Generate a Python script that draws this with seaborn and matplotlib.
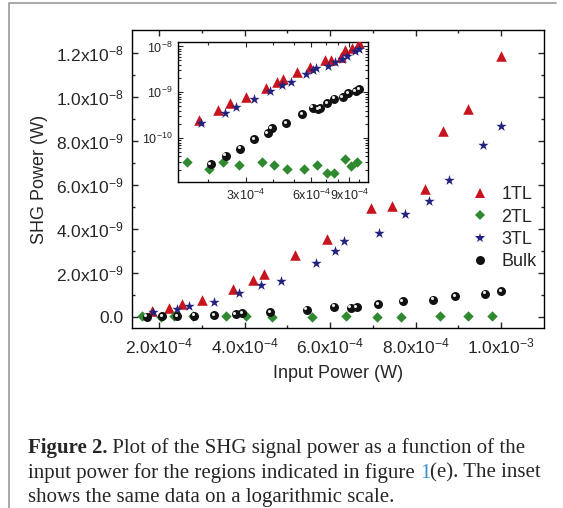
import numpy as np
import pandas as pd
import matplotlib
matplotlib.use("Agg")
import matplotlib.pyplot as plt
import matplotlib.transforms as mtransforms
from matplotlib.lines import Line2D
from matplotlib.ticker import FixedLocator, NullFormatter
import seaborn as sns

# input power in units of 1e-4 W, SHG power in units of 1e-9 W
x_1tl = [1.83, 2.24, 2.54, 3.00, 3.72, 4.19, 4.45, 5.17, 5.93, 6.96, 7.45, 8.22, 8.65, 9.23, 10.0]
y_1tl = [0.25, 0.42, 0.58, 0.78, 1.27, 1.70, 1.93, 2.80, 3.55, 4.96, 5.02, 5.79, 8.44, 9.43, 11.85]

x_2tl = [1.61, 2.04, 2.35, 2.80, 3.57, 4.04, 4.65, 5.57, 6.38, 7.10, 7.65, 8.58, 9.22, 9.78]
y_2tl = [0.0305, 0.0215, 0.0305, 0.0263, 0.0305, 0.0263, 0.0215, 0.0215, 0.0263, 0.0171, 0.0171, 0.0355, 0.0250, 0.0296]

x_3tl = [1.87, 2.41, 2.71, 3.28, 3.88, 4.39, 4.86, 5.68, 6.12, 6.33, 7.15, 7.75, 8.32, 8.78, 9.57, 10.0]
y_3tl = [0.21, 0.35, 0.48, 0.70, 1.08, 1.46, 1.64, 2.47, 3.01, 3.46, 3.82, 4.68, 5.27, 6.21, 7.81, 8.68]

x_bulk = [1.71, 2.07, 2.42, 2.83, 3.29, 3.79, 3.95, 4.60, 5.45, 6.10, 6.48, 6.62, 7.13, 7.70, 8.41, 8.93, 9.63, 10.0]
y_bulk = [0.005, 0.027, 0.041, 0.059, 0.095, 0.126, 0.163, 0.212, 0.33, 0.46, 0.43, 0.45, 0.58, 0.72, 0.78, 0.95, 1.06, 1.16]

series_names = ["1TL", "2TL", "3TL", "Bulk"]

xticks_main = [2e-4, 4e-4, 6e-4, 8e-4, 1e-3]
xticklabels_main = ["2.0x10$^{-4}$", "4.0x10$^{-4}$", "6.0x10$^{-4}$", "8.0x10$^{-4}$", "1.0x10$^{-3}$"]
yticks_main = [0, 2e-9, 4e-9, 6e-9, 8e-9, 1e-8, 1.2e-8]
yticklabels_main = ["0.0", "2.0x10$^{-9}$", "4.0x10$^{-9}$", "6.0x10$^{-9}$",
                    "8.0x10$^{-9}$", "1.0x10$^{-8}$", "1.2x10$^{-8}$"]
xticks_inset = [3e-4, 6e-4, 9e-4]
xticklabels_inset = ["3x10$^{-4}$", "6x10$^{-4}$", "9x10$^{-4}$"]
yticks_inset = [1e-10, 1e-9, 1e-8]
yticklabels_inset = ["10$^{-10}$", "10$^{-9}$", "10$^{-8}$"]

frames = []
for name, xs, ys in [("1TL", x_1tl, y_1tl), ("2TL", x_2tl, y_2tl),
                     ("3TL", x_3tl, y_3tl), ("Bulk", x_bulk, y_bulk)]:
    frames.append(pd.DataFrame({"power": np.array(xs) * 1e-4,
                                "shg": np.array(ys) * 1e-9,
                                "region": name}))
df = pd.concat(frames, ignore_index=True)

styles = {
    "1TL": dict(marker="^", s=58, color="#C8141E"),
    "2TL": dict(marker="D", s=28, color="#2F8A2F"),
    "3TL": dict(marker="*", s=62, color="#23237F"),
    "Bulk": dict(marker="o", s=42, color="#111111"),
}

sns.set_style("ticks")
plt.rcParams["font.family"] = ["Liberation Sans", "DejaVu Sans"]
plt.rcParams["mathtext.default"] = "regular"

fig = plt.figure(figsize=(5.63, 5.08), dpi=100)
ax = fig.add_axes([0.2345, 0.3543, 0.7318, 0.5866])
axin = fig.add_axes([0.3162, 0.6417, 0.3375, 0.2756])


def draw_series(a):
    for name in series_names:
        sub = df[df["region"] == name]
        st = styles[name]
        sns.scatterplot(data=sub, x="power", y="shg", ax=a, marker=st["marker"],
                        s=st["s"], color=st["color"], linewidth=0, legend=False,
                        zorder=3)
    # highlight on the black spheres
    sub = df[df["region"] == "Bulk"]
    shine = mtransforms.offset_copy(a.transData, fig=fig, x=-1.0, y=1.0, units="points")
    a.scatter(sub["power"], sub["shg"], s=5, color="#e8e8e8", linewidth=0,
              transform=shine, zorder=4)


draw_series(ax)
ax.set_xlim(1.37e-4, 1.10e-3)
ax.set_ylim(-0.5e-9, 13.02e-9)
ax.xaxis.set_major_locator(FixedLocator(xticks_main))
ax.set_xticklabels(xticklabels_main)
ax.xaxis.set_minor_locator(FixedLocator([3e-4, 5e-4, 7e-4, 9e-4]))
ax.yaxis.set_major_locator(FixedLocator(yticks_main))
ax.set_yticklabels(yticklabels_main)
ax.yaxis.set_minor_locator(FixedLocator([1e-9, 3e-9, 5e-9, 7e-9, 9e-9, 1.1e-8]))
ax.set_xlabel("Input Power (W)", fontsize=13, labelpad=6)
ax.set_ylabel("SHG Power (W)", fontsize=13, labelpad=6)
ax.tick_params(which="both", direction="in", top=True, right=True, width=1.0,
               labelsize=12.5, pad=6)
ax.tick_params(which="major", length=4.5)
ax.tick_params(which="minor", length=2.5)
for sp in ax.spines.values():
    sp.set_linewidth(1.0)
    sp.set_color("black")

handles = [Line2D([], [], linestyle="none", marker=styles[n]["marker"],
                  markersize=np.sqrt(styles[n]["s"]), color=styles[n]["color"],
                  markeredgewidth=0) for n in series_names]
ax.legend(handles, series_names, loc="upper left", bbox_to_anchor=(0.805, 0.50),
          frameon=False, fontsize=13, handlelength=1.0, handletextpad=0.7,
          labelspacing=0.3, borderaxespad=0)

draw_series(axin)
axin.set_xscale("log")
axin.set_yscale("log")
axin.set_xlim(1.46e-4, 1.10e-3)
axin.set_ylim(1.1e-11, 1.25e-8)
axin.xaxis.set_major_locator(FixedLocator(xticks_inset))
axin.set_xticklabels(xticklabels_inset)
axin.xaxis.set_minor_locator(FixedLocator([2e-4, 4e-4, 5e-4, 7e-4, 8e-4, 1e-3]))
axin.xaxis.set_minor_formatter(NullFormatter())
axin.yaxis.set_major_locator(FixedLocator(yticks_inset))
axin.set_yticklabels(yticklabels_inset)
axin.yaxis.set_minor_locator(FixedLocator(
    [k * 10.0 ** e for e in (-11, -10, -9) for k in range(2, 10)]))
axin.yaxis.set_minor_formatter(NullFormatter())
axin.set_xlabel("")
axin.set_ylabel("")
axin.tick_params(which="both", direction="in", top=True, right=True, width=0.8,
                 labelsize=9, pad=4)
axin.tick_params(which="major", length=3.5)
axin.tick_params(which="minor", length=2)
for sp in axin.spines.values():
    sp.set_linewidth(1.0)
    sp.set_color("black")

# page frame
fig.add_artist(Line2D([8.5 / 563, 8.5 / 563, 556 / 563], [0, 1 - 3.3 / 508, 1 - 3.3 / 508],
                      transform=fig.transFigure, color="#9a9a9a", linewidth=1.2))

# caption
serif = "Liberation Serif"
cap_size = 15
fig.canvas.draw()
rend = fig.canvas.get_renderer()
x0 = 28 / 563
base = [1 - 453.3 / 508, 1 - 477.7 / 508, 1 - 501.7 / 508]
t = fig.text(x0, base[0], "Figure 2.", fontsize=cap_size, fontweight="bold", family=serif, va="baseline")
bb = t.get_window_extent(rend)
fig.text(bb.x1 / fig.bbox.width, base[0], " Plot of the SHG signal power as a function of the",
         fontsize=cap_size, family=serif, va="baseline")
t = fig.text(x0, base[1], "input power for the regions indicated in figure ", fontsize=cap_size,
             family=serif, va="baseline")
bb = t.get_window_extent(rend)
t = fig.text(bb.x1 / fig.bbox.width, base[1], "1", fontsize=cap_size, family=serif,
             va="baseline", color="#3A8FC8")
bb = t.get_window_extent(rend)
fig.text(bb.x1 / fig.bbox.width, base[1], "(e). The inset", fontsize=cap_size, family=serif,
         va="baseline")
fig.text(x0, base[2], "shows the same data on a logarithmic scale.", fontsize=cap_size,
         family=serif, va="baseline")

fig.savefig("out.png", dpi=100)
